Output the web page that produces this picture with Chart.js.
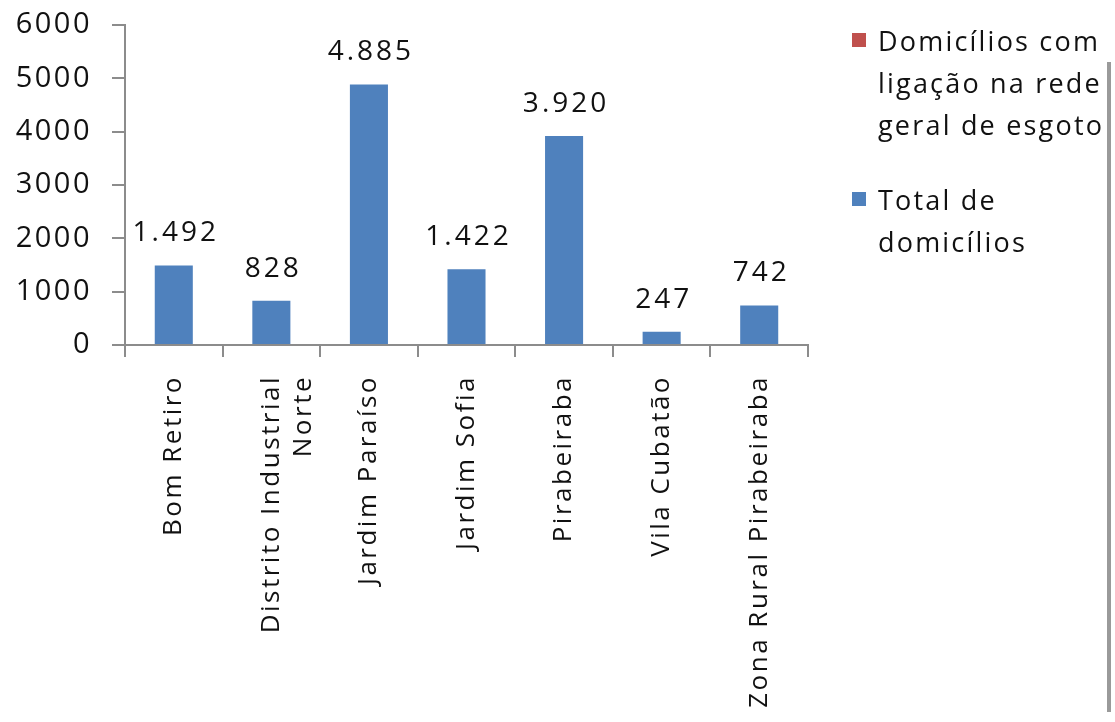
<!DOCTYPE html>
<html>
<head>
<meta charset="utf-8">
<script src="https://cdn.jsdelivr.net/npm/chart.js@4/dist/chart.umd.min.js"></script>
<style>
    html, body { margin: 0; padding: 0; background: #fff; }
    #wrap { position: relative; width: 1115px; height: 722px; overflow: hidden; }
    #grafico { position: absolute; left: 0; top: 0; }
    #legenda { position: absolute; left: 852px; top: 20px; font-family: "Open Sans", sans-serif; font-size: 27px; letter-spacing: 2.2px; color: #111; }
    #legenda .item { position: relative; padding-left: 26px; line-height: 42px; white-space: pre-line; margin-bottom: 33px; }
    #legenda .cor { position: absolute; left: 0; top: 13px; width: 14px; height: 14px; }
    #borda { position: absolute; left: 1107px; top: 62px; width: 4px; height: 650px; background: #9a9a9a; }
</style>
</head>
<body>
<div id="wrap">
    <canvas id="grafico" width="1115" height="722"></canvas>
    <div id="legenda"></div>
    <div id="borda"></div>
</div>
<script>
// bairros
const bairros = [
    'Bom Retiro',
    ['Distrito Industrial', 'Norte'],
    'Jardim Paraíso',
    'Jardim Sofia',
    'Pirabeiraba',
    'Vila Cubatão',
    'Zona Rural Pirabeiraba'
];
// domicílios com ligação na rede (não aparece no gráfico original)
const comEsgoto = [null, null, null, null, null, null, null];
// total de domicílios
const totalDomicilios = [1492, 828, 4885, 1422, 3920, 247, 742];
const ticksY = [0, 1000, 2000, 3000, 4000, 5000, 6000];

const nomeSerie1 = 'Domicílios com\nligação na rede\ngeral de esgoto';
const nomeSerie2 = 'Total de\ndomicílios';

const corTexto = '#111';
const corEixo = '#8c8c8c';

function formata(v) {
    return String(v).replace(/\B(?=(\d{3})+(?!\d))/g, '.');
}

// espaçamento entre letras, imitando o texto do Excel
const espacamento = {
    id: 'espacamento',
    beforeUpdate(chart) { chart.ctx.letterSpacing = '2.5px'; },
    beforeDraw(chart) { chart.ctx.letterSpacing = '2.5px'; }
};

// rótulos em cima das barras
const rotulos = {
    id: 'rotulos',
    afterDatasetsDraw(chart) {
        const ctx = chart.ctx;
        const meta = chart.getDatasetMeta(1);
        ctx.save();
        ctx.letterSpacing = '3px';
        ctx.font = '28px "Open Sans"';
        ctx.fillStyle = corTexto;
        ctx.textAlign = 'center';
        ctx.textBaseline = 'alphabetic';
        meta.data.forEach((bar, i) => {
            ctx.fillText(formata(totalDomicilios[i]), bar.x + 2, bar.y - 24);
        });
        ctx.restore();
    }
};

const canvas = document.getElementById('grafico');
const chart = new Chart(canvas.getContext('2d'), {
    type: 'bar',
    data: {
        labels: bairros,
        datasets: [
            { label: nomeSerie1, data: comEsgoto, backgroundColor: '#C0504D' },
            { label: nomeSerie2, data: totalDomicilios, backgroundColor: '#4F81BD' }
        ]
    },
    options: {
        responsive: false,
        animation: false,
        events: [],
        layout: { padding: { top: 25, right: 307, left: 0, bottom: 0 } },
        datasets: { bar: { grouped: false, barPercentage: 0.39, categoryPercentage: 1 } },
        plugins: { legend: { display: false }, tooltip: { enabled: false } },
        scales: {
            x: {
                grid: { display: true, drawOnChartArea: false, drawTicks: true, tickLength: 12, color: corEixo, lineWidth: 2 },
                border: { color: corEixo, width: 2 },
                ticks: {
                    color: corTexto,
                    font: { family: 'Open Sans', size: 26, lineHeight: 1.25 },
                    minRotation: 90, maxRotation: 90,
                    padding: 18,
                    autoSkip: false
                },
                afterFit(scale) { scale.height = 377; }
            },
            y: {
                min: 0, max: 6000,
                afterBuildTicks(scale) { scale.ticks = ticksY.map(v => ({ value: v })); },
                grid: { display: true, drawOnChartArea: false, drawTicks: true, tickLength: 13, color: corEixo, lineWidth: 2 },
                border: { color: corEixo, width: 2 },
                ticks: {
                    color: corTexto,
                    font: { family: 'Open Sans', size: 29 },
                    padding: 20,
                    callback: v => String(v)
                },
                afterFit(scale) {
                    scale.width = 125;
                    scale.paddingTop = 0;
                    scale.paddingBottom = 0;
                }
            }
        }
    },
    plugins: [espacamento, rotulos]
});

// legenda em HTML, feita a partir das séries do gráfico
const legenda = document.getElementById('legenda');
chart.data.datasets.forEach(ds => {
    const item = document.createElement('div');
    item.className = 'item';
    item.innerHTML = `<span class="cor" style="background:${ds.backgroundColor}"></span>${ds.label}`;
    legenda.appendChild(item);
});
</script>
</body>
</html>
